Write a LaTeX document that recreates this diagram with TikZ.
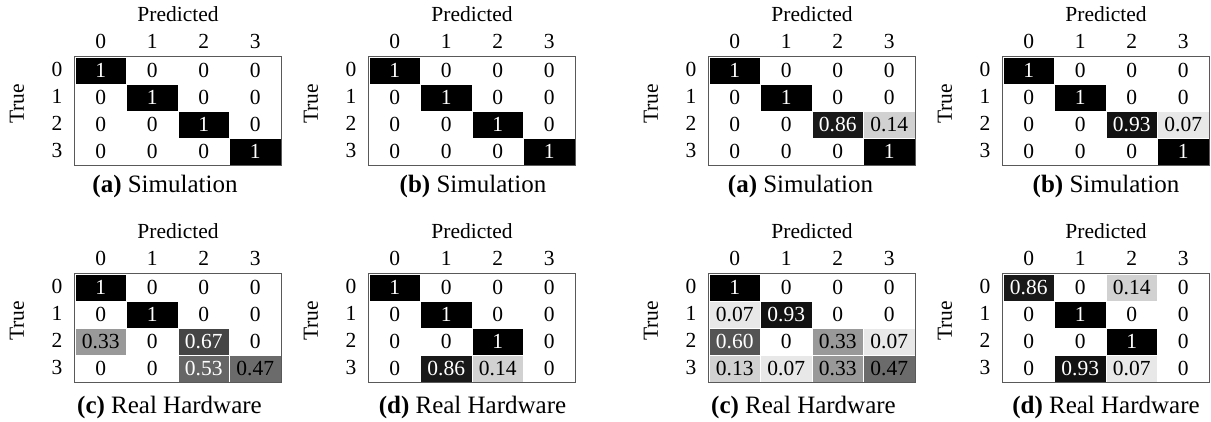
\documentclass[tikz,border=0pt]{standalone}
\usepackage{fontspec}
\setmainfont{Liberation Serif}
\tikzset{
  lab/.style={inner sep=0pt, font=\fontsize{21.5}{25}\selectfont},
  cellnode/.style={draw=white, line width=0.6pt, inner sep=0pt,
    minimum width=51.5pt, minimum height=27pt, font=\fontsize{21.5}{25}\selectfont},
  frame/.style={draw=black!65, line width=0.9pt},
  captxt/.style={inner sep=0pt, anchor=base, font=\fontsize{25}{29}\selectfont},
}
% #1 id, #2 L, #3 T, #4 capx, #5 capy, #6 caption, #7 cells
\newcommand\cmpanel[7]{%
  \foreach \v/\g/\tc [count=\i from 0] in {#7} {
    \pgfmathtruncatemacro\rr{int(\i/4)}
    \pgfmathtruncatemacro\cc{mod(\i,4)}
    \node[cellnode, fill=black!\g, text=\tc] (#1-\rr-\cc)
      at ({#2+25.75+51.5*\cc},{#3+13.5+27*\rr}) {\v};
  }
  \draw[frame] (#1-0-0.north west) rectangle (#1-3-3.south east);
  \foreach \k in {0,1,2,3} {
    \node[lab, anchor=base] (#1-col\k) at ({#2+25.75+51.5*\k},{#3-8}) {\k};
    \node[lab] (#1-row\k) at ({#2-18},{#3+12.5+27*\k}) {\k};
  }
  \node[lab, anchor=base] (#1-pred) at ({#2+103},{#3-35}) {Predicted};
  \node[lab, rotate=90] (#1-true) at ({#2-58},{#3+47}) {True};
  \node[captxt] (#1-cap) at (#4,#5) {#6};
}
\begin{document}
\begin{tikzpicture}[x=1pt, y=-1pt]
\useasboundingbox (0,0) rectangle (1211,422);
\cmpanel{A}{75}{57}{165}{193}{\textbf{(a)} Simulation}{
 1/100/white,0/0/black,0/0/black,0/0/black,
 0/0/black,1/100/white,0/0/black,0/0/black,
 0/0/black,0/0/black,1/100/white,0/0/black,
 0/0/black,0/0/black,0/0/black,1/100/white}
\cmpanel{B}{369}{57}{473}{193}{\textbf{(b)} Simulation}{
 1/100/white,0/0/black,0/0/black,0/0/black,
 0/0/black,1/100/white,0/0/black,0/0/black,
 0/0/black,0/0/black,1/100/white,0/0/black,
 0/0/black,0/0/black,0/0/black,1/100/white}
\cmpanel{C}{75}{274}{169.5}{413}{\textbf{(c)} Real Hardware}{
 1/100/white,0/0/black,0/0/black,0/0/black,
 0/0/black,1/100/white,0/0/black,0/0/black,
 0.33/40/black,0/0/black,0.67/73/white,0/0/black,
 0/0/black,0/0/black,0.53/60/white,0.47/58/black}
\cmpanel{D}{369}{274}{472.5}{413}{\textbf{(d)} Real Hardware}{
 1/100/white,0/0/black,0/0/black,0/0/black,
 0/0/black,1/100/white,0/0/black,0/0/black,
 0/0/black,0/0/black,1/100/white,0/0/black,
 0/0/black,0.86/90/white,0.14/18/black,0/0/black}
\cmpanel{E}{709}{57}{800.5}{193}{\textbf{(a)} Simulation}{
 1/100/white,0/0/black,0/0/black,0/0/black,
 0/0/black,1/100/white,0/0/black,0/0/black,
 0/0/black,0/0/black,0.86/90/white,0.14/18/black,
 0/0/black,0/0/black,0/0/black,1/100/white}
\cmpanel{F}{1003}{57}{1106}{193}{\textbf{(b)} Simulation}{
 1/100/white,0/0/black,0/0/black,0/0/black,
 0/0/black,1/100/white,0/0/black,0/0/black,
 0/0/black,0/0/black,0.93/93/white,0.07/9/black,
 0/0/black,0/0/black,0/0/black,1/100/white}
\cmpanel{G}{709}{274}{803.5}{413}{\textbf{(c)} Real Hardware}{
 1/100/white,0/0/black,0/0/black,0/0/black,
 0.07/9/black,0.93/93/white,0/0/black,0/0/black,
 0.60/67/white,0/0/black,0.33/40/black,0.07/9/black,
 0.13/18/black,0.07/9/black,0.33/40/black,0.47/58/black}
\cmpanel{H}{1003}{274}{1106}{413}{\textbf{(d)} Real Hardware}{
 0.86/90/white,0/0/black,0.14/18/black,0/0/black,
 0/0/black,1/100/white,0/0/black,0/0/black,
 0/0/black,0/0/black,1/100/white,0/0/black,
 0/0/black,0.93/93/white,0.07/9/black,0/0/black}
\end{tikzpicture}
\end{document}
